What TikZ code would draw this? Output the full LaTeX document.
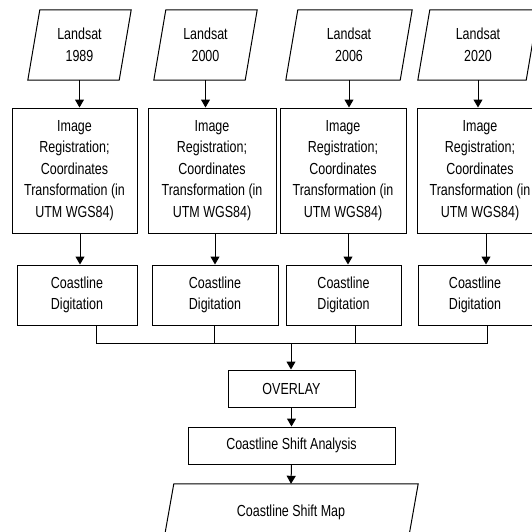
\documentclass[tikz,border=0pt]{standalone}
\usepackage{fontspec}
\setmainfont{Liberation Sans}[FakeStretch=0.78]
\usetikzlibrary{arrows.meta, positioning, calc}

\tikzset{
  procbox/.style={draw, line width=1pt, align=center, inner sep=0pt,
                  font=\fontsize{16}{21.5}\selectfont},
  databox/.style={align=center, inner sep=0pt,
                  font=\fontsize{16}{21.5}\selectfont},
  flow/.style={-{Triangle[length=8pt,width=9pt]}, line width=1pt},
  bus/.style={line width=1pt},
}
% parallelogram drawn round a (borderless) node: #1 node, #2 skew
\newcommand{\paral}[2]{%
  \draw[line width=1pt] ([xshift=#2]#1.north west) -- (#1.north east)
    -- ([xshift=-#2]#1.south east) -- (#1.south west) -- cycle;}

\begin{document}
\begin{tikzpicture}[x=1pt, y=-1pt]
    \useasboundingbox (0,0) rectangle (532,531);

    % input data
    \node[databox, minimum width=103, minimum height=70] (L1) at (79.5,45) {Landsat\\1989};
    \node[databox, minimum width=103, minimum height=70] (L2) at (205.5,45) {Landsat\\2000};
    \node[databox, minimum width=126, minimum height=70] (L3) at (349,45) {Landsat\\2006};
    \node[databox, minimum width=120, minimum height=70] (L4) at (478,45) {Landsat\\2020};
    \foreach \n in {1,...,4} {\paral{L\n}{12pt}}

    % registration
    \node[procbox, minimum width=125, minimum height=125] (I1) at (74.5,170.5)
        {Image\\Registration;\\Coordinates\\Transformation (in\\UTM WGS84)};
    \node[procbox, minimum width=128, minimum height=125] (I2) at (212,170.5)
        {Image\\Registration;\\Coordinates\\Transformation (in\\UTM WGS84)};
    \node[procbox, minimum width=126, minimum height=125] (I3) at (343,170.5)
        {Image\\Registration;\\Coordinates\\Transformation (in\\UTM WGS84)};
    \node[procbox, minimum width=126, minimum height=125] (I4) at (480,170.5)
        {Image\\Registration;\\Coordinates\\Transformation (in\\UTM WGS84)};

    % digitation
    \node[procbox, minimum width=120, minimum height=60] (C1) at (77,295) {Coastline\\Digitation};
    \node[procbox, minimum width=126, minimum height=60] (C2) at (215,295) {Coastline\\Digitation};
    \node[procbox, minimum width=115, minimum height=60] (C3) at (343.5,295) {Coastline\\Digitation};
    \node[procbox, minimum width=114, minimum height=60] (C4) at (475,295) {Coastline\\Digitation};

    \foreach \n in {1,...,4}
        \draw[flow] (L\n.south) -- (L\n.south |- I\n.north);
    \foreach \n/\dx in {1/5.5, 2/3, 3/5, 4/6}
        \draw[flow] ([xshift=\dx pt]I\n.south) -- ([xshift=\dx pt]I\n.south |- C\n.north);

    % merge
    \coordinate (join) at (291,343);
    \draw[bus] ([xshift=19pt]C1.south) |- ([xshift=12pt]C4.south |- join)
        -- ([xshift=12pt]C4.south);
    \draw[bus] ([xshift=-1pt]C2.south) -- ([xshift=-1pt]C2.south |- join);
    \draw[bus] ([xshift=11.5pt]C3.south) -- ([xshift=11.5pt]C3.south |- join);

    \node[procbox, minimum width=127, minimum height=37] (O) at (291.5,388.5) {OVERLAY};
    \node[procbox, minimum width=207, minimum height=37] (A) at (291.5,445.5) {Coastline Shift Analysis};
    \node[databox, minimum width=254, minimum height=56] (M) at (291,512) {Coastline Shift Map};
    \paral{M}{10pt}

    \draw[flow] (join) -- (join |- O.north);
    \draw[flow] (O.south) -- (A.north);
    \draw[flow] (A.south) -- (M.north);
\end{tikzpicture}
\end{document}
